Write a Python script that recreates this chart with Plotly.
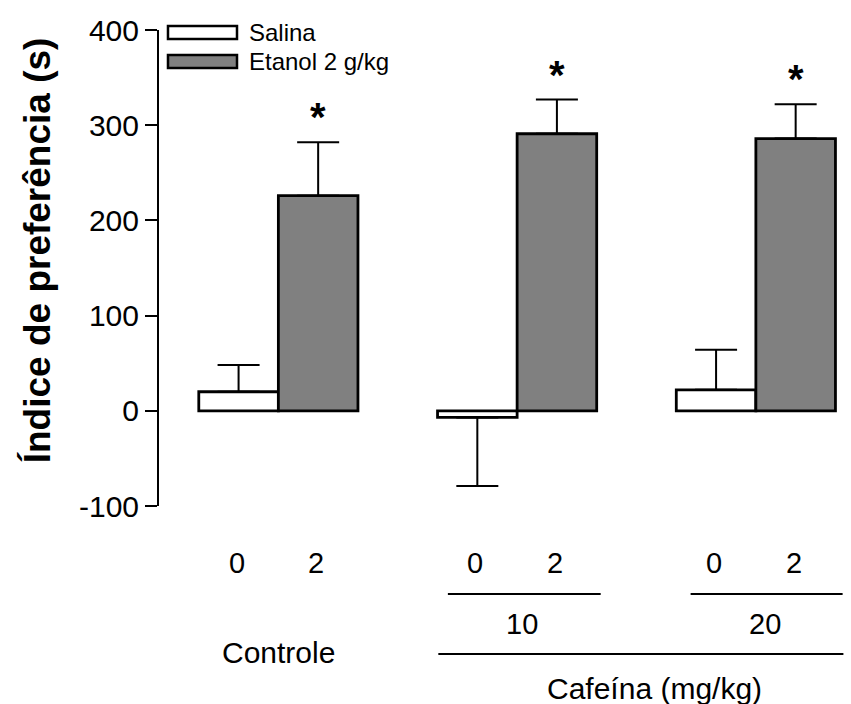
import plotly.graph_objects as go

# Preference index (s), mean with SEM, per treatment group
groups = ["Controle", "10", "20"]
dose_labels = ["0", "2"]
salina = [20, -7, 22]
salina_err = [28, 72, 42]
etanol = [226, 291, 286]
etanol_err = [56, 36, 36]
y_ticks = [-100, 0, 100, 200, 300, 400]
y_tick_text = ["-100", "0", "100", "200", "300", "400"]

FONT = "Liberation Sans, Arial, sans-serif"
GREY = "#808080"

# bar slots: each group has a saline bar and an ethanol bar, groups 3 units apart
x_sal = [3 * i for i in range(len(groups))]
x_eta = [3 * i + 1 for i in range(len(groups))]

fig = go.Figure()

fig.add_trace(go.Bar(
    x=x_sal, y=salina, width=1,
    marker=dict(color="white", line=dict(color="black", width=2.8)),
    error_y=dict(type="data", symmetric=False,
                 array=[e if v >= 0 else 0 for v, e in zip(salina, salina_err)],
                 arrayminus=[e if v < 0 else 0 for v, e in zip(salina, salina_err)],
                 color="black", thickness=2, width=21),
    showlegend=False,
))
fig.add_trace(go.Bar(
    x=x_eta, y=etanol, width=1,
    marker=dict(color=GREY, line=dict(color="black", width=2.8)),
    error_y=dict(type="data", symmetric=False, array=etanol_err,
                 arrayminus=[0] * len(etanol),
                 color="black", thickness=2, width=21),
    showlegend=False,
))

ann = []
# significance marks above ethanol bars
for x, v, e in zip(x_eta, etanol, etanol_err):
    ann.append(dict(x=x, y=v + e, xref="x", yref="y", text="<b>*</b>",
                    showarrow=False, yanchor="bottom", yshift=1,
                    font=dict(family=FONT, size=40, color="black")))

# ethanol dose labels under each bar
for xs, xe in zip(x_sal, x_eta):
    for x, lab in zip((xs, xe), dose_labels):
        ann.append(dict(x=x, y=-0.1197, xref="x", yref="paper", text=lab,
                        showarrow=False, yanchor="middle", xshift=-2,
                        font=dict(family=FONT, size=29, color="black")))

# group labels
centers = [(xs + xe) / 2 for xs, xe in zip(x_sal, x_eta)]
ann.append(dict(x=centers[0], y=-0.3087, xref="x", yref="paper", text=groups[0],
                showarrow=False, yanchor="middle",
                font=dict(family=FONT, size=30, color="black")))
for c, g, sh in zip(centers[1:], groups[1:], (5, 9)):
    ann.append(dict(x=c, y=-0.2474, xref="x", yref="paper", text=g,
                    showarrow=False, yanchor="middle", xshift=sh,
                    font=dict(family=FONT, size=29, color="black")))
ann.append(dict(x=5.22, y=-0.3828, xref="x", yref="paper", text="Cafeína (mg/kg)",
                showarrow=False, yanchor="middle",
                font=dict(family=FONT, size=30, color="black")))

# y-axis title
ann.append(dict(x=-0.178, y=0.537, xref="paper", yref="paper",
                text="<b>Índice de preferência (s)</b>", textangle=-90,
                showarrow=False, xanchor="center", yanchor="middle",
                font=dict(family=FONT, size=37, color="black")))

# legend
ann.append(dict(x=0.1283, y=0.9937, xref="paper", yref="paper", text="Salina",
                showarrow=False, xanchor="left", yanchor="middle",
                font=dict(family=FONT, size=24, color="black")))
ann.append(dict(x=0.1283, y=0.9328, xref="paper", yref="paper", text="Etanol 2 g/kg",
                showarrow=False, xanchor="left", yanchor="middle",
                font=dict(family=FONT, size=24, color="black")))

shapes = [
    dict(type="rect", xref="paper", yref="paper", x0=0.0131, x1=0.1137,
         y0=0.981, y1=1.0084, fillcolor="white", line=dict(color="black", width=2.5)),
    dict(type="rect", xref="paper", yref="paper", x0=0.0131, x1=0.1137,
         y0=0.920, y1=0.9475, fillcolor=GREY, line=dict(color="black", width=2.5)),
    # bracket lines under the caffeine groups
    dict(type="line", xref="x", yref="paper", x0=2.63, x1=4.55, y0=-0.1849, y1=-0.1849,
         line=dict(color="black", width=2)),
    dict(type="line", xref="x", yref="paper", x0=5.68, x1=7.59, y0=-0.1849, y1=-0.1849,
         line=dict(color="black", width=2)),
    dict(type="line", xref="x", yref="paper", x0=2.51, x1=7.6, y0=-0.3109, y1=-0.3109,
         line=dict(color="black", width=2)),
]

fig.update_layout(
    width=851, height=704,
    margin=dict(l=159, r=6, t=30, b=198),
    paper_bgcolor="white", plot_bgcolor="white",
    barmode="overlay",
    font=dict(family=FONT, color="black"),
    annotations=ann, shapes=shapes,
    xaxis=dict(range=[-1.0, 7.62], showline=False, showticklabels=False,
               ticks="", showgrid=False, zeroline=False),
    yaxis=dict(range=[-100, 400], tickvals=y_ticks, ticktext=y_tick_text,
               ticks="outside", ticklen=12,
               tickwidth=2, tickcolor="black", showline=True, linewidth=2,
               linecolor="black", showgrid=False, zeroline=False,
               tickfont=dict(family=FONT, size=30, color="black")),
)

fig.write_html("out.html")
